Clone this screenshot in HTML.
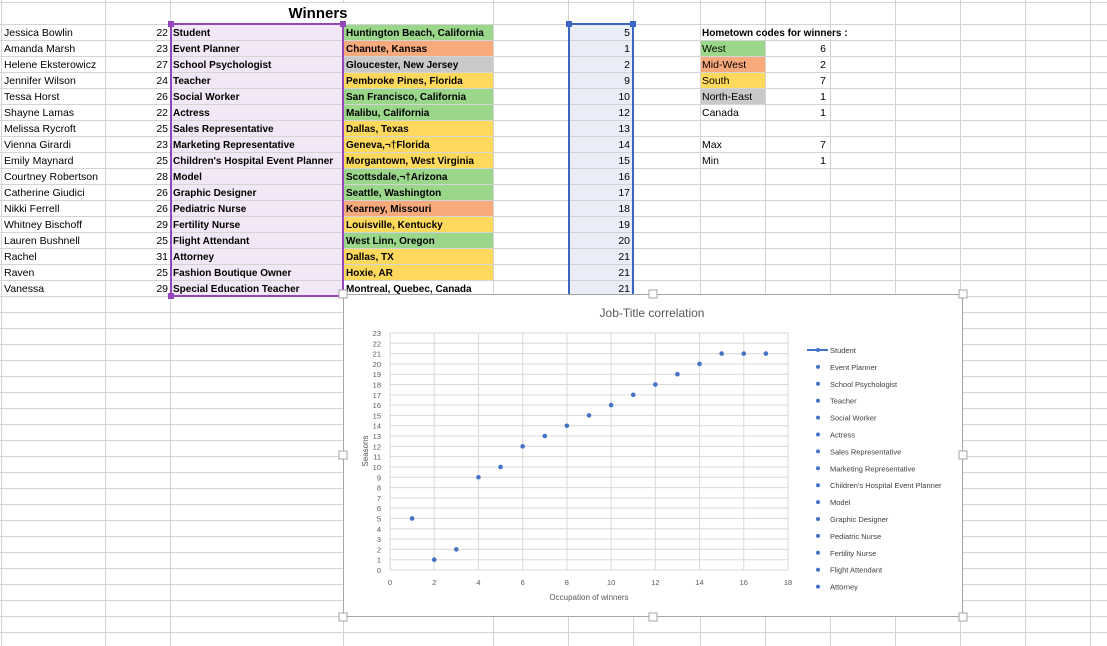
<!DOCTYPE html>
<html><head><meta charset="utf-8"><style>
html,body{margin:0;padding:0;background:#fff;}
svg{display:block;font-family:"Liberation Sans",sans-serif;}
</style></head><body>
<svg id="s" width="1107" height="646" viewBox="0 0 1107 646" xmlns="http://www.w3.org/2000/svg"></svg>
<script>
const names=["Jessica Bowlin","Amanda Marsh","Helene Eksterowicz","Jennifer Wilson","Tessa Horst","Shayne Lamas","Melissa Rycroft","Vienna Girardi","Emily Maynard","Courtney Robertson","Catherine Giudici","Nikki Ferrell","Whitney Bischoff","Lauren Bushnell","Rachel","Raven","Vanessa"];
const ages=[22,23,27,24,26,22,25,23,25,28,26,26,29,25,31,25,29];
const jobs=["Student","Event Planner","School Psychologist","Teacher","Social Worker","Actress","Sales Representative","Marketing Representative","Children's Hospital Event Planner","Model","Graphic Designer","Pediatric Nurse","Fertility Nurse","Flight Attendant","Attorney","Fashion Boutique Owner","Special Education Teacher"];
const towns=["Huntington Beach, California","Chanute, Kansas","Gloucester, New Jersey","Pembroke Pines, Florida","San Francisco, California","Malibu, California","Dallas, Texas","Geneva,¬†Florida","Morgantown, West Virginia","Scottsdale,¬†Arizona","Seattle, Washington","Kearney, Missouri","Louisville, Kentucky","West Linn, Oregon","Dallas, TX","Hoxie, AR","Montreal, Quebec, Canada"];
const regions=["W","MW","NE","S","W","W","S","S","S","W","W","MW","S","W","S","S","C"];
const seasons=[5,1,2,9,10,12,13,14,15,16,17,18,19,20,21,21,21];
const occupation=[1,2,3,4,5,6,7,8,9,10,11,12,13,14,15,16,17];
const codeLabels=["West","Mid-West","South","North-East","Canada"];
const codeKeys=["W","MW","S","NE","C"];
const codeCounts=[6,2,7,1,1];
const legendNames=["Student","Event Planner","School Psychologist","Teacher","Social Worker","Actress","Sales Representative","Marketing Representative","Children's Hospital Event Planner","Model","Graphic Designer","Pediatric Nurse","Fertility Nurse","Flight Attendant","Attorney"];
const xTicks=[0,2,4,6,8,10,12,14,16,18];
const yTicks=[0,1,2,3,4,5,6,7,8,9,10,11,12,13,14,15,16,17,18,19,20,21,22,23];

const fills={W:"#9bd78b",MW:"#f9aa7c",S:"#fed95c",NE:"#c9c9c9",C:"#ffffff"};
const NS="http://www.w3.org/2000/svg";
const s=document.getElementById('s');
function el(tag,attrs,parent){const e=document.createElementNS(NS,tag);for(const k in attrs)e.setAttribute(k,attrs[k]);(parent||s).appendChild(e);return e;}
function txt(str,x,y,attrs,parent){const e=el('text',Object.assign({x:x,y:y,'font-size':10.5,fill:'#000'},attrs||{}),parent);e.textContent=str;return e;}

const cols=[1,105,170,343,493,568,633,700,765,830,895,960,1025,1090];
const rowY=k=>24+16*k;
for(let i=0;i<17;i++){
  const r=el('rect',{x:171,y:rowY(i),width:172,height:16,fill:'#f1e7f7'});
  
  
  const f=el('rect',{x:343,y:rowY(i),width:150,height:16,fill:fills[regions[i]]});
  
  
  const b=el('rect',{x:569,y:rowY(i),width:64,height:16,fill:'#e9edf8'});
  
  
}
for(let i=0;i<4;i++){
  const f=el('rect',{x:700,y:rowY(i+1),width:65,height:16,fill:fills[codeKeys[i]]});
  
  
}
const g=el('g',{stroke:'#d4d4d4','stroke-width':1});


for(const c of cols) el('line',{x1:c+0.5,y1:0,x2:c+0.5,y2:646},g);
el('line',{x1:0,y1:2.5,x2:1107,y2:2.5},g);
for(let k=0;k<40;k++) el('line',{x1:0,y1:rowY(k)+0.5,x2:1107,y2:rowY(k)+0.5},g);
el('rect',{x:171,y:3,width:321,height:21,fill:'#fff'});
const t=txt("Winners",318,18,{'font-size':15,'font-weight':'bold','text-anchor':'middle'});


for(let i=0;i<17;i++){
  const y=rowY(i)+12;
  const a=txt(names[i],4,y);
  const b=txt(String(ages[i]),168,y,{'text-anchor':'end'});
  const c=txt(jobs[i],173,y,{'font-weight':'bold','font-size':10});
  const d=txt(towns[i],346,y,{'font-weight':'bold','font-size':10});
  const e=txt(String(seasons[i]),630,y,{'text-anchor':'end'});
}
const p=el('rect',{x:171,y:24,width:172,height:272,fill:'none',stroke:'#9447bb','stroke-width':2});

for(const [hx,hy] of [[171,24],[343,24],[171,296]]) el('rect',{x:hx-3,y:hy-3,width:6,height:6,fill:'#9447bb'});
const bl=el('rect',{x:569,y:24,width:64,height:272,fill:'none',stroke:'#3b66c4','stroke-width':2});

for(const [hx,hy] of [[569,24],[633,24]]) el('rect',{x:hx-3,y:hy-3,width:6,height:6,fill:'#3b66c4'});
const h=txt("Hometown codes for winners :",702,rowY(0)+12,{'font-weight':'bold','font-size':10});

for(let i=0;i<5;i++){
  const a=txt(codeLabels[i],702,rowY(i+1)+12);
  const b=txt(String(codeCounts[i]),826,rowY(i+1)+12,{'text-anchor':'end'});
}
const mx=txt("Max",702,rowY(7)+12);
const mxv=txt(String(Math.max(...codeCounts)),826,rowY(7)+12,{'text-anchor':'end'});
const mn=txt("Min",702,rowY(8)+12);
const mnv=txt(String(Math.min(...codeCounts)),826,rowY(8)+12,{'text-anchor':'end'});

const ch=el('g',{});

el('rect',{x:343.5,y:294.5,width:619,height:322,fill:'#fff',stroke:'#a6a6a6','stroke-width':1},ch);
for(const [hx,hy] of [[343,294],[653,294],[963,294],[343,455],[963,455],[343,617],[653,617],[963,617]]) el('rect',{x:hx-4,y:hy-4,width:8,height:8,fill:'#fff',stroke:'#a6a6a6'},ch);
const ct=txt("Job-Title correlation",652,317,{'font-size':12,fill:'#595959','text-anchor':'middle'},ch);

const X0=390,X1=788,Y0=570,Y1=333;
const sx=v=>X0+(X1-X0)*v/18, sy=v=>Y0-(Y0-Y1)*v/23;
const gg=el('g',{stroke:'#d9d9d9','stroke-width':1},ch);

for(const v of yTicks) el('line',{x1:X0,y1:sy(v),x2:X1,y2:sy(v)},gg);
for(const v of xTicks) el('line',{x1:sx(v),y1:Y1,x2:sx(v),y2:Y0},gg);
for(const v of yTicks){const l=txt(String(v),381,sy(v)+3,{'font-size':7.5,fill:'#595959','text-anchor':'end'},ch);}
for(const v of xTicks){const l=txt(String(v),sx(v),585,{'font-size':7.5,fill:'#595959','text-anchor':'middle'},ch);}
const xt=txt("Occupation of winners",589,600,{'font-size':8,fill:'#595959','text-anchor':'middle'},ch);

const yt=txt("Seasons",368,451,{'font-size':8,fill:'#595959','text-anchor':'middle',transform:'rotate(-90 368 451)'},ch);

for(let i=0;i<seasons.length;i++){
  const c=el('circle',{cx:sx(occupation[i]),cy:sy(seasons[i]),r:2.3,fill:'#4472c4'},ch);
  
}
for(let i=0;i<legendNames.length;i++){
  const y=350+16.9*i;
  if(i===0) el('line',{x1:807,y1:y,x2:828,y2:y,stroke:'#4472c4','stroke-width':2},ch);
  el('circle',{cx:818,cy:y,r:2,fill:'#4472c4'},ch);
  const l=txt(legendNames[i],830,y+3,{'font-size':7.5,fill:'#404040'},ch);
  
}
</script>
</body></html>
